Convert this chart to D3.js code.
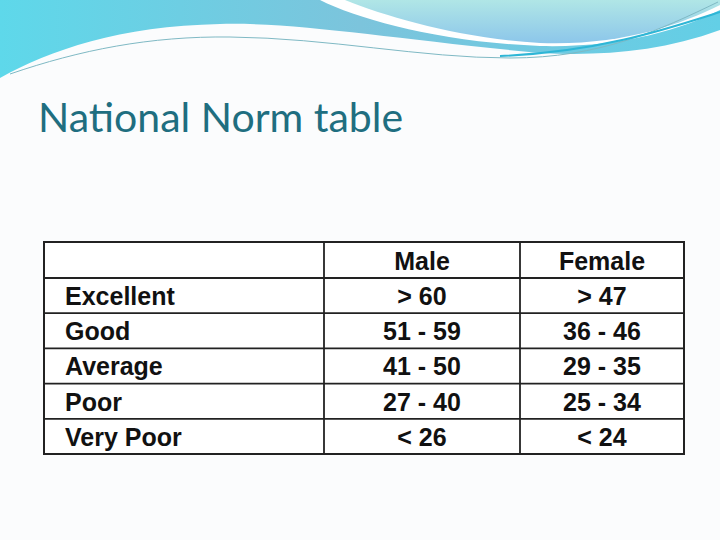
<!DOCTYPE html>
<html><head><meta charset="utf-8">
<script src="https://cdn.jsdelivr.net/npm/d3@7"></script>
<style>body{margin:0;background:#fff}</style>
</head><body>
<svg class="slide" width="720" height="540"></svg>
<script>
var levels = ["Excellent", "Good", "Average", "Poor", "Very Poor"];
var columns = ["", "Male", "Female"];
var male = ["> 60", "51 - 59", "41 - 50", "27 - 40", "< 26"];
var female = ["> 47", "36 - 46", "29 - 35", "25 - 34", "< 24"];

var svg = d3.select(".slide");
var defs = svg.append("defs");

var g1 = defs.append("linearGradient").attr("id", "wave1").attr("x1", 0).attr("x2", 1).attr("y1", 0).attr("y2", 0);
g1.append("stop").attr("offset", 0).attr("stop-color", "#5ed8ea");
g1.append("stop").attr("offset", 0.5).attr("stop-color", "#7cc4dc");
g1.append("stop").attr("offset", 1).attr("stop-color", "#63cfe6");
var g2 = defs.append("linearGradient").attr("id", "wave2").attr("x1", 0).attr("x2", 0).attr("y1", 0).attr("y2", 1);
g2.append("stop").attr("offset", 0).attr("stop-color", "#b0e6e6");
g2.append("stop").attr("offset", 1).attr("stop-color", "#8cc6ea");

svg.append("rect").attr("width", 720).attr("height", 540).attr("fill", "#fbfcfd");

// header waves
svg.append("path").attr("fill", "url(#wave1)")
    .attr("d", "M0,0 L720,0 L720,30 C660,52 600,56 540,53 C400,40 300,22 220,24 C120,26 50,50 0,78 Z");
svg.append("path").attr("fill", "#ffffff")
    .attr("d", "M320,0 C360,20 440,42 540,46 C620,48 680,30 720,10 L720,0 Z");
svg.append("path").attr("fill", "url(#wave2)")
    .attr("d", "M345,0 C390,18 460,38 540,43 C620,46 680,25 720,5 L720,0 Z");
svg.append("path").attr("fill", "none").attr("stroke", "#7fb9c4").attr("stroke-width", 1)
    .attr("d", "M10,74 C80,50 150,36 230,37 C330,38 420,58 510,58 C600,58 660,30 718,2");
svg.append("path").attr("fill", "none").attr("stroke", "#2eb6d6").attr("stroke-width", 2)
    .attr("d", "M500,56 C600,52 670,28 720,12");

svg.append("text").attr("x", 38).attr("y", 132)
    .style("font-family", "Lato, 'Open Sans', sans-serif").style("font-size", "41px")
    .attr("fill", "#1f6e80").text("National Norm table");

// table
var colEdges = [44, 324, 520, 684];
var rowEdges = d3.scaleLinear().domain([0, 1]).range([278, 313]);
var rowH = 35.2;
var y = function(i) { return i < 0 ? 242 : 278 + i * rowH; };

var t = svg.append("g");
t.append("rect").attr("x", colEdges[0]).attr("y", 242).attr("width", colEdges[3] - colEdges[0])
    .attr("height", y(levels.length) - 242).attr("fill", "#ffffff").attr("stroke", "#222").attr("stroke-width", 2);
d3.range(0, levels.length).forEach(function(i) {
  t.append("line").attr("x1", colEdges[0]).attr("x2", colEdges[3]).attr("y1", y(i)).attr("y2", y(i))
      .attr("stroke", "#222").attr("stroke-width", 1.8);
});
[1, 2].forEach(function(c) {
  t.append("line").attr("x1", colEdges[c]).attr("x2", colEdges[c]).attr("y1", 242).attr("y2", y(levels.length))
      .attr("stroke", "#222").attr("stroke-width", 1.8);
});

function cell(txt, x, yy, anchor) {
  t.append("text").attr("x", x).attr("y", yy).attr("text-anchor", anchor)
      .style("font-family", "'Liberation Sans', Arial, sans-serif").style("font-weight", "bold")
      .style("font-size", "25px").attr("fill", "#111").text(txt);
}
columns.forEach(function(c, j) {
  if (c) cell(c, (colEdges[j] + colEdges[j + 1]) / 2, 270, "middle");
});
levels.forEach(function(l, i) {
  var by = y(i) + 27;
  cell(l, 65, by, "start");
  cell(male[i], (colEdges[1] + colEdges[2]) / 2, by, "middle");
  cell(female[i], (colEdges[2] + colEdges[3]) / 2, by, "middle");
});
</script>
</body></html>
